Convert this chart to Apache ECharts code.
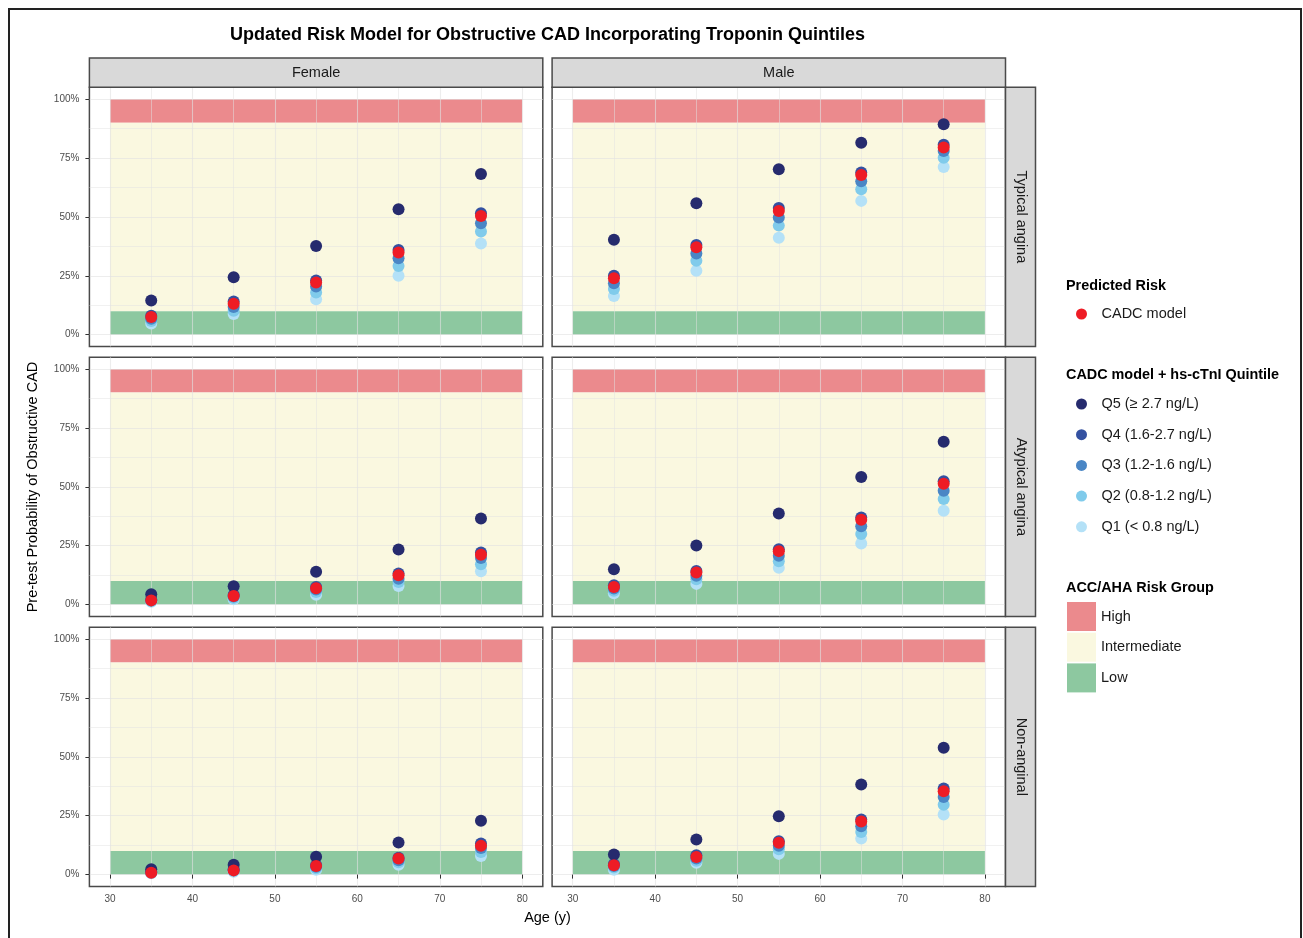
<!DOCTYPE html>
<html>
<head>
<meta charset="utf-8">
<script src="https://cdn.jsdelivr.net/npm/echarts@6/dist/echarts.min.js"></script>
<style>
  html, body { margin: 0; padding: 0; background: #ffffff; }
  #chart { width: 1303px; height: 938px; }
</style>
</head>
<body>
<div id="chart"></div>
<script>
// ---- data ---------------------------------------------------------------
const ages = [35, 45, 55, 65, 75];
const sexes = ['Female', 'Male'];
const painTypes = ['Typical angina', 'Atypical angina', 'Non-anginal'];
const modelName = 'CADC model';
// quintile labels, lowest to highest troponin
const quintileNames = ['Q1 (< 0.8 ng/L)', 'Q2 (0.8-1.2 ng/L)', 'Q3 (1.2-1.6 ng/L)', 'Q4 (1.6-2.7 ng/L)', 'Q5 (≥ 2.7 ng/L)'];
const xTicks = [30, 40, 50, 60, 70, 80];
const xMinorTicks = [35, 45, 55, 65, 75];
const yTicks = [0, 25, 50, 75, 100];
const yMinorTicks = [12.5, 37.5, 62.5, 87.5];
const riskGroups = ['High', 'Intermediate', 'Low'];
const riskLower = [90, 10, 0];
const riskUpper = [100, 90, 10];
const riskAgeSpan = [30, 80];

// predicted probability (%) by age; quintile rows are Q1..Q5
const femaleTypicalCadc = [7.5, 13.1, 22.2, 34.9, 50.4];
const femaleTypicalQuintiles = [
  [4.8, 8.8, 15.1, 25.0, 38.7],
  [5.8, 10.2, 17.9, 29.2, 43.8],
  [6.8, 11.8, 20.5, 32.5, 47.3],
  [8.0, 14.1, 23.0, 36.0, 51.5],
  [14.5, 24.4, 37.7, 53.2, 68.2]
];
const maleTypicalCadc = [24.0, 37.1, 52.5, 67.8, 79.5];
const maleTypicalQuintiles = [
  [16.4, 27.1, 41.2, 56.8, 71.2],
  [19.4, 31.4, 46.3, 61.7, 75.1],
  [21.8, 34.5, 49.7, 65.1, 78.0],
  [25.0, 38.1, 53.8, 68.8, 80.6],
  [40.3, 55.8, 70.2, 81.5, 89.3]
];
const femaleAtypicalCadc = [1.8, 3.7, 6.9, 12.5, 21.2];
const femaleAtypicalQuintiles = [
  [1.2, 2.3, 4.2, 7.9, 14.2],
  [1.5, 2.8, 5.4, 9.6, 17.1],
  [1.8, 3.4, 6.4, 11.0, 19.8],
  [2.2, 4.2, 7.5, 13.2, 22.1],
  [4.4, 7.8, 13.9, 23.4, 36.5]
];
const maleAtypicalCadc = [7.5, 13.6, 22.7, 36.0, 51.3];
const maleAtypicalQuintiles = [
  [4.8, 8.8, 15.6, 25.9, 39.8],
  [5.9, 10.8, 18.4, 30.0, 44.8],
  [6.8, 12.2, 20.7, 33.3, 48.3],
  [8.2, 14.3, 23.5, 37.0, 52.4],
  [15.0, 25.1, 38.7, 54.2, 69.1]
];
const femaleNonAnginalCadc = [0.8, 1.8, 3.7, 6.8, 12.2];
const femaleNonAnginalQuintiles = [
  [0.6, 1.2, 2.1, 4.2, 7.9],
  [0.8, 1.6, 2.7, 5.2, 9.6],
  [1.0, 1.9, 3.3, 6.1, 11.3],
  [1.2, 2.3, 4.1, 7.2, 13.2],
  [2.3, 4.2, 7.6, 13.6, 22.9]
];
const maleNonAnginalCadc = [4.0, 7.5, 13.5, 22.5, 35.4];
const maleNonAnginalQuintiles = [
  [2.1, 5.0, 8.8, 15.3, 25.5],
  [3.0, 5.9, 10.8, 18.1, 29.7],
  [3.7, 6.8, 12.2, 20.5, 32.9],
  [4.5, 8.2, 14.2, 23.4, 36.5],
  [8.5, 14.9, 24.8, 38.2, 53.8]
];

// ---- styling --------------------------------------------------------------
const FONT = "'Liberation Sans', Arial, Helvetica, sans-serif";
const quintileColors = ['#b4e1f7', '#80cbeb', '#4a86c5', '#3451a1', '#262b6e'];
const modelColor = '#ee1c25';
const riskColors = ['#eb8a8d', '#faf8e0', '#8dc8a0'];
const gridLineColor = 'rgba(226,226,226,0.62)';

// panel layout (rows = chest-pain type, columns = sex)
const colLeft = [89.4, 552.1];
const colWidth = 453.4;
const rowTop = [87.3, 357.2, 627.2];
const rowHeight = 259.2;

const panels = [
  { row: 0, col: 0, cadc: femaleTypicalCadc, q: femaleTypicalQuintiles },
  { row: 0, col: 1, cadc: maleTypicalCadc, q: maleTypicalQuintiles },
  { row: 1, col: 0, cadc: femaleAtypicalCadc, q: femaleAtypicalQuintiles },
  { row: 1, col: 1, cadc: maleAtypicalCadc, q: maleAtypicalQuintiles },
  { row: 2, col: 0, cadc: femaleNonAnginalCadc, q: femaleNonAnginalQuintiles },
  { row: 2, col: 1, cadc: maleNonAnginalCadc, q: maleNonAnginalQuintiles }
];

const grids = [], xAxes = [], yAxes = [], series = [];

panels.forEach((p, i) => {
  const bottomRow = p.row === 2;
  const leftCol = p.col === 0;
  grids.push({
    left: colLeft[p.col], top: rowTop[p.row], width: colWidth, height: rowHeight,
    show: true, backgroundColor: '#ffffff', borderColor: '#4a4a4a', borderWidth: 1.5
  });
  // major x axis (ticks, labels, major grid lines)
  xAxes.push({
    gridIndex: i, type: 'value', min: 27.5, max: 82.5, z: 3,
    axisLine: { show: false },
    axisTick: { show: bottomRow, customValues: xTicks, length: 4, lineStyle: { color: '#333333', width: 1 } },
    axisLabel: { show: bottomRow, customValues: xTicks, margin: 8, color: '#4d4d4d', fontSize: 10, fontFamily: FONT },
    splitLine: { show: true, lineStyle: { color: gridLineColor, width: 1.1 } }
  });
  // minor x grid lines
  xAxes.push({
    gridIndex: i, type: 'value', min: 27.5, max: 82.5, z: 3,
    axisLine: { show: false },
    axisTick: { show: false, customValues: xMinorTicks },
    axisLabel: { show: false },
    splitLine: { show: true, lineStyle: { color: gridLineColor, width: 0.8 } }
  });
  yAxes.push({
    gridIndex: i, type: 'value', min: -5, max: 105, z: 3,
    axisLine: { show: false },
    axisTick: { show: leftCol, customValues: yTicks, length: 4, lineStyle: { color: '#333333', width: 1 } },
    axisLabel: { show: leftCol, customValues: yTicks, margin: 10, color: '#4d4d4d', fontSize: 10, fontFamily: FONT,
                 formatter: v => v + '%' },
    splitLine: { show: true, lineStyle: { color: gridLineColor, width: 1.1 } }
  });
  yAxes.push({
    gridIndex: i, type: 'value', min: -5, max: 105, z: 3,
    axisLine: { show: false },
    axisTick: { show: false, customValues: yMinorTicks },
    axisLabel: { show: false },
    splitLine: { show: true, lineStyle: { color: gridLineColor, width: 0.8 } }
  });

  const xi = i * 2, yi = i * 2;

  // ACC/AHA risk bands
  riskGroups.forEach((g, k) => {
    series.push({
      type: 'scatter', name: g, xAxisIndex: xi, yAxisIndex: yi, data: [], z: 1,
      itemStyle: { color: riskColors[k], opacity: 1 },
      markArea: {
        silent: true, z: 1,
        label: { show: false },
        itemStyle: { color: riskColors[k], opacity: 1 },
        data: [[{ xAxis: riskAgeSpan[0], yAxis: riskLower[k] }, { xAxis: riskAgeSpan[1], yAxis: riskUpper[k] }]]
      }
    });
  });

  // quintile points, Q1 first so darker quintiles sit on top
  quintileNames.forEach((name, k) => {
    series.push({
      type: 'scatter', name: name, xAxisIndex: xi, yAxisIndex: yi, z: 5,
      symbol: 'circle', symbolSize: 12,
      itemStyle: { color: quintileColors[k], opacity: 1 },
      emphasis: { disabled: true },
      data: ages.map((a, j) => [a, p.q[k][j]])
    });
  });

  // base model on top
  series.push({
    type: 'scatter', name: modelName, xAxisIndex: xi, yAxisIndex: yi, z: 6,
    symbol: 'circle', symbolSize: 12,
    itemStyle: { color: modelColor, opacity: 1 },
    emphasis: { disabled: true },
    data: ages.map((a, j) => [a, p.cadc[j]])
  });
});

// facet strips
const graphics = [];
sexes.forEach((s, c) => {
  graphics.push({
    type: 'rect', z: 10,
    shape: { x: colLeft[c], y: 58, width: colWidth, height: rowTop[0] - 58 },
    style: { fill: '#d9d9d9', stroke: '#4a4a4a', lineWidth: 1.5 }
  });
  graphics.push({
    type: 'text', z: 11, x: colLeft[c] + colWidth / 2, y: (58 + rowTop[0]) / 2,
    style: { text: s, fill: '#1a1a1a', font: '14.5px ' + FONT, textAlign: 'center', textVerticalAlign: 'middle' }
  });
});
painTypes.forEach((t, r) => {
  const sx = colLeft[1] + colWidth;
  graphics.push({
    type: 'rect', z: 10,
    shape: { x: sx, y: rowTop[r], width: 30, height: rowHeight },
    style: { fill: '#d9d9d9', stroke: '#4a4a4a', lineWidth: 1.5 }
  });
  graphics.push({
    type: 'text', z: 11, x: sx + 15, y: rowTop[r] + rowHeight / 2, rotation: -Math.PI / 2,
    style: { text: t, fill: '#1a1a1a', font: '14.5px ' + FONT, textAlign: 'center', textVerticalAlign: 'middle' }
  });
});

// titles and legend headings
graphics.push(
  { type: 'rect', z: 0, shape: { x: 9, y: 9, width: 1292, height: 960 },
    style: { fill: null, stroke: '#222222', lineWidth: 2 } },
  { type: 'text', z: 11, x: 547.5, y: 35,
    style: { text: 'Updated Risk Model for Obstructive CAD Incorporating Troponin Quintiles', fill: '#000000',
             font: 'bold 18px ' + FONT, textAlign: 'center', textVerticalAlign: 'middle' } },
  { type: 'text', z: 11, x: 547.5, y: 918,
    style: { text: 'Age (y)', fill: '#000000', font: '14.5px ' + FONT, textAlign: 'center', textVerticalAlign: 'middle' } },
  { type: 'text', z: 11, x: 33, y: 487, rotation: Math.PI / 2,
    style: { text: 'Pre-test Probability of Obstructive CAD', fill: '#000000', font: '14.5px ' + FONT,
             textAlign: 'center', textVerticalAlign: 'middle' } },
  { type: 'text', z: 11, x: 1066, y: 286,
    style: { text: 'Predicted Risk', fill: '#000000', font: 'bold 14.4px ' + FONT, textVerticalAlign: 'middle' } },
  { type: 'text', z: 11, x: 1066, y: 375,
    style: { text: 'CADC model + hs-cTnI Quintile', fill: '#000000', font: 'bold 14.4px ' + FONT, textVerticalAlign: 'middle' } },
  { type: 'text', z: 11, x: 1066, y: 588,
    style: { text: 'ACC/AHA Risk Group', fill: '#000000', font: 'bold 14.4px ' + FONT, textVerticalAlign: 'middle' } }
);

const legendText = { fontSize: 14.5, color: '#1a1a1a', fontFamily: FONT, lineHeight: 17 };

const option = {
  animation: false,
  textStyle: { fontFamily: FONT },
  grid: grids,
  xAxis: xAxes,
  yAxis: yAxes,
  legend: [
    { data: [modelName], orient: 'vertical', left: 1076, top: 305.5, padding: 0,
      icon: 'circle', itemWidth: 30, itemHeight: 11, itemGap: 13.7, textStyle: legendText, selectedMode: false },
    { data: quintileNames.slice().reverse(), orient: 'vertical', left: 1076, top: 395.5, padding: 0,
      icon: 'circle', itemWidth: 30, itemHeight: 11, itemGap: 13.7, textStyle: legendText, selectedMode: false },
    { data: riskGroups, orient: 'vertical', left: 1067, top: 602, padding: 0,
      icon: 'rect', itemWidth: 29, itemHeight: 29, itemGap: 1.7, textStyle: legendText, selectedMode: false }
  ],
  graphic: graphics,
  series: series
};

const chart = echarts.init(document.getElementById('chart'), null, { renderer: 'canvas' });
chart.setOption(option);
</script>
</body>
</html>
